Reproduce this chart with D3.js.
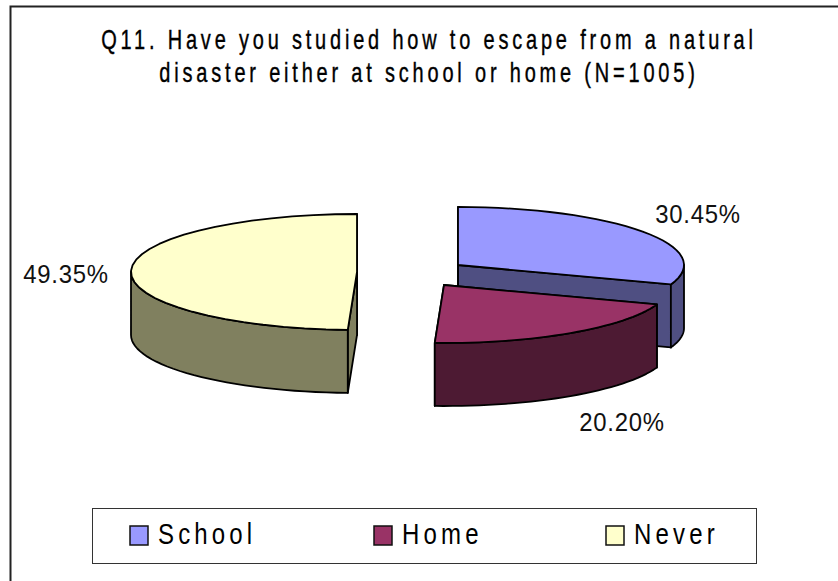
<!DOCTYPE html>
<html><head><meta charset="utf-8">
<script src="https://cdn.jsdelivr.net/npm/d3@7"></script>
<style>html,body{margin:0;padding:0;background:#fff}svg{display:block}</style>
</head><body><svg id="c" width="838" height="581"></svg>
<script>
const categories = ["School","Home","Never"];
const values = [30.45,20.20,49.35];
const valueLabels = ["30.45%","20.20%","49.35%"];
const titleLines = ["Q11. Have you studied how to escape from a natural","disaster either at school or home (N=1005)"];
const topColors = ["#9999ff","#993366","#ffffcc"];
const sideColors = ["#4f4f82","#4d1a33","#80805f"];
const centers = [[458,265],[444,285],[357,272]];
const labelPos = [[698,223],[622,431],[66,283]];
const legendX = [130,374,606];
const RX = 226, RY = 58, DEPTH = 63;
const FONT = "'Liberation Sans',sans-serif";

const svg = d3.select("#c");
svg.append("path").attr("d",d3.line()([[10.5,581],[10.5,6.5],[838,6.5]])).attr("fill","none").attr("stroke","#222").attr("stroke-width",2);

function squeezed(parent,t,x,y,size,sx,ls,anchor){
  return parent.append("text").attr("transform",`translate(${x},${y}) scale(${sx},1)`).attr("text-anchor",anchor)
    .attr("font-family",FONT).attr("font-size",size).attr("letter-spacing",ls).attr("fill","#000").text(t);
}
const title = svg.append("g");
titleLines.forEach((t,i)=>squeezed(title,t,429,49+i*33,27,0.74,5.15,"middle").attr("stroke","#000").attr("stroke-width",0.4));

const arcs = d3.pie().sort(null).value(d=>d)(values);
const px = (c,a,dz=0)=>[c[0]+RX*Math.sin(a), c[1]-RY*Math.cos(a)+dz];
const sample = (a0,a1)=>d3.range(0,33).map(d3.scaleLinear().domain([0,32]).range([a0,a1]));
const line = d3.line();
const strokeIt = s=>s.attr("stroke","#000").attr("stroke-width",1.8).attr("stroke-linejoin","round");

function drawSlice(i){
  const a = arcs[i], c = centers[i], g = svg.append("g");
  [a.endAngle,a.startAngle].forEach(e=>{
    const p = px(c,e);
    g.append("path").attr("d",line([c,p,[p[0],p[1]+DEPTH],[c[0],c[1]+DEPTH]])+"Z").attr("fill",sideColors[i]).call(strokeIt);
  });
  const lo = Math.max(a.startAngle,Math.PI/2), hi = Math.min(a.endAngle,Math.PI*1.5);
  if(hi>lo){
    const s = sample(lo,hi);
    const top = s.map(t=>px(c,t)), bot = s.map(t=>px(c,t,DEPTH)).reverse();
    g.append("path").attr("d",line(top.concat(bot))+"Z").attr("fill",sideColors[i]).call(strokeIt);
  }
  g.append("path").attr("d",line([c].concat(sample(a.startAngle,a.endAngle).map(t=>px(c,t))))+"Z").attr("fill",topColors[i]).call(strokeIt);
}
[2,0,1].forEach(drawSlice);

valueLabels.forEach((t,i)=>squeezed(svg,t,labelPos[i][0],labelPos[i][1],26,0.92,0.8,"middle").attr("fill","#111"));

svg.append("rect").attr("x",92.5).attr("y",508.5).attr("width",664).attr("height",55).attr("fill","#fff").attr("stroke","#333");
categories.forEach((t,i)=>{
  svg.append("rect").attr("x",legendX[i]).attr("y",526).attr("width",18).attr("height",19).attr("fill",topColors[i]).attr("stroke","#111").attr("stroke-width",1.5);
  squeezed(svg,t,legendX[i]+28,544,30,0.8,5.2,"start");
});
</script></body></html>
